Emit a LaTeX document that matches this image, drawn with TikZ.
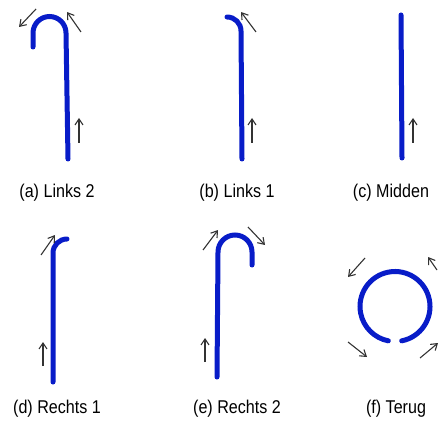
\documentclass[tikz,border=0pt]{standalone}
\usepackage{fontspec}
\setmainfont{Liberation Sans}[FakeStretch=0.87]
\usetikzlibrary{arrows.meta}
\definecolor{cane}{RGB}{8,28,200}

\begin{document}
\begin{tikzpicture}[x=1pt,y=1pt,font=\fontsize{18.5}{20}\selectfont,
  stick/.style={draw=cane,line width=5pt,line cap=round},
  mv/.style={draw=black!80,line width=1.1pt,-{Straight Barb[length=6pt,width=8pt]}},
  lbl/.style={inner sep=0pt,anchor=center}]
  \useasboundingbox (0,0) rectangle (438,423);
  \clip (0,0) rectangle (438,423);
  % (a) Links 2
  \draw[stick] (68,264) -- (66,390) arc[start angle=0,end angle=180,radius=16.5] -- (33,376);
  \draw[mv] (79,280) -- (79,305);
  \draw[mv] (81,391) -- (67,411);
  \draw[mv] (36,414) -- (19,396);
  \node[lbl] (la) at (57,230) {(a) Links 2};
  % (b) Links 1
  \draw[stick] (242,264) -- (241,392) arc[start angle=0,end angle=90,radius=14];
  \draw[mv] (252,280) -- (252,305);
  \draw[mv] (256,391) -- (241,411);
  \node[lbl] (lb) at (237,230) {(b) Links 1};
  % (c) Midden
  \draw[stick] (402,265) -- (401,408);
  \draw[mv] (413,280) -- (413,305);
  \node[lbl] (lc) at (391,230) {(c) Midden};
  % (d) Rechts 1
  \draw[stick] (53,41) -- (53,170) arc[start angle=180,end angle=90,radius=14];
  \draw[mv] (43,57) -- (43,81);
  \draw[mv] (41,168) -- (55,188);
  \node[lbl] (ld) at (57,14) {(d) Rechts 1};
  % (e) Rechts 2
  \draw[stick] (217,46) -- (218,171) arc[start angle=180,end angle=0,radius=17] -- (252,158);
  \draw[mv] (205,61) -- (205,85);
  \draw[mv] (203,173) -- (218,193);
  \draw[mv] (248,196) -- (265,178);
  \node[lbl] (le) at (237,14) {(e) Rechts 2};
  % (f) Terug
  \draw[stick] (395,116.5) ++(-79:35) arc[start angle=-79,end angle=259,radius=35];
  \draw[mv] (365,165) -- (348,146);
  \draw[mv] (348,81) -- (367,66);
  \draw[mv] (437,153) -- (428,166);
  \draw[mv] (420,65) -- (438,80);
  \node[lbl] (lf) at (396,14) {(f) Terug};
\end{tikzpicture}
\end{document}
